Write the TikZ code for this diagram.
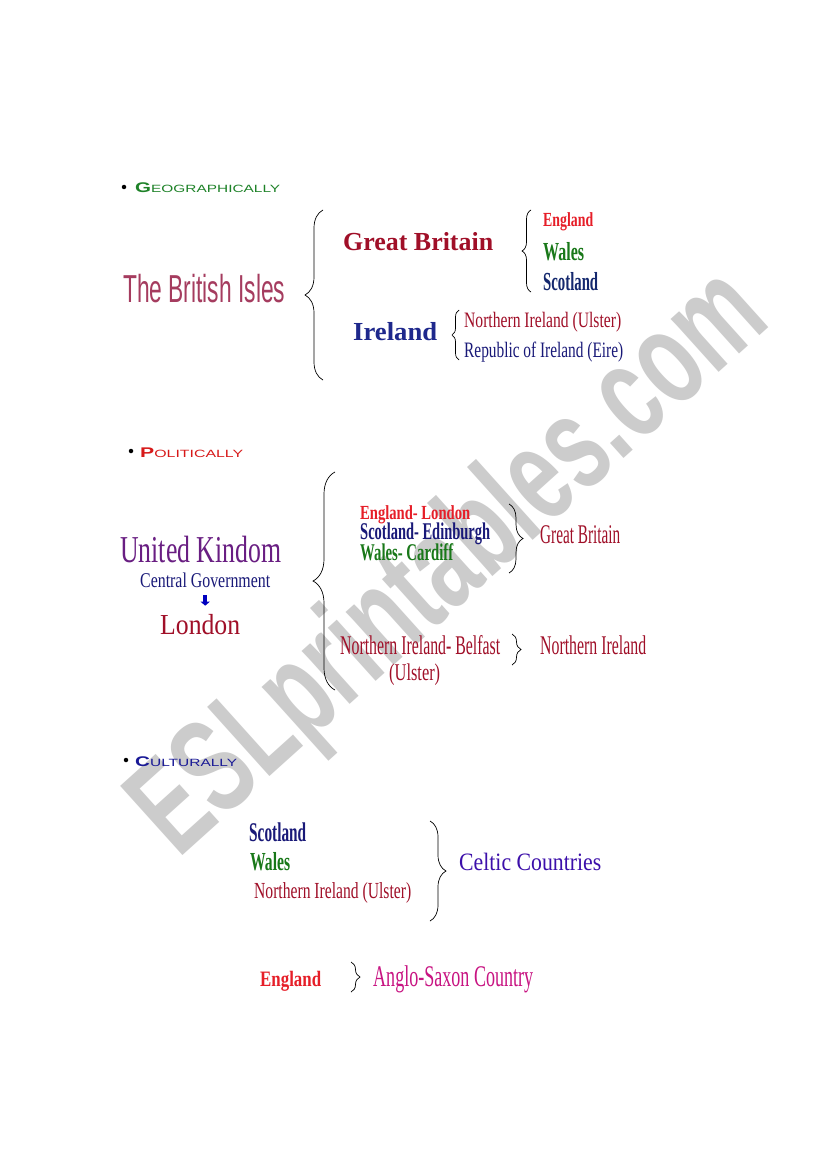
\documentclass[tikz,border=0pt]{standalone}
\usepackage{fontspec}
\setmainfont{Liberation Serif}
\newfontfamily\headfont{Liberation Sans}
\newfontfamily\markfont{Liberation Sans Bold}
\usepackage{graphicx}
\usetikzlibrary{decorations.pathreplacing,arrows.meta,calc}

\definecolor{geogreen}{RGB}{30,130,40}
\definecolor{polred}{RGB}{215,25,25}
\definecolor{culblue}{RGB}{25,25,150}
\definecolor{darkred}{RGB}{160,15,40}
\definecolor{engred}{RGB}{230,30,40}
\definecolor{walgreen}{RGB}{25,120,25}
\definecolor{scotblue}{RGB}{20,40,110}
\definecolor{navy}{RGB}{25,25,120}
\definecolor{irlblue}{RGB}{30,40,140}
\definecolor{islesred}{RGB}{165,60,95}
\definecolor{ukpurple}{RGB}{105,30,130}
\definecolor{celtic}{RGB}{60,15,170}
\definecolor{saxon}{RGB}{200,20,130}
\definecolor{mark}{RGB}{204,204,204}

% size, width, text
\newcommand{\sq}[3]{{\fontsize{#1}{#1}\selectfont\resizebox{#2pt}{\height}{#3}}}
% first letter, rest, width
\newcommand{\heading}[3]{{\headfont\resizebox{#3pt}{\height}{\fontsize{14}{14}\selectfont\bfseries #1\mdseries\fontsize{10.5}{10.5}\selectfont #2}}}

\begin{document}
\begin{tikzpicture}[x=1pt,y=-1pt,
    lbl/.style={inner sep=0pt,anchor=base west},
    curly/.style={decorate,decoration={brace,amplitude=#1},line width=0.7pt},
    bullet/.style={circle,fill=black,inner sep=0pt,minimum size=4.5pt}]

  \fill[white] (0,0) rectangle (821,1169);
  \useasboundingbox (0,0) rectangle (821,1169);

  \node[rotate=42,text=mark] (wm) at (452,566)
    {\markfont\resizebox{800pt}{98pt}{ESLprintables.com}};

  % geographically
  \node[bullet] (b1) at (124,187) {};
  \node[lbl,text=geogreen] (geo) at (135,193) {\heading{G}{EOGRAPHICALLY}{145}};
  \node[lbl,text=islesred] (isles) at (123,302) {\headfont\sq{39}{162}{The British Isles}};
  \node[lbl,text=darkred] (gb) at (343,250) {\bfseries\sq{26}{150}{Great Britain}};
  \node[lbl,text=engred] (eng) at (543,226) {\bfseries\sq{20}{50}{England}};
  \node[lbl,text=walgreen] (wal) at (543,260) {\bfseries\sq{26}{41}{Wales}};
  \node[lbl,text=scotblue] (sco) at (543,290) {\bfseries\sq{26}{55}{Scotland}};
  \node[lbl,text=irlblue] (irl) at (353,340) {\bfseries\sq{26}{84}{Ireland}};
  \node[lbl,text=darkred] (ni) at (464,327) {\sq{22}{157}{Northern Ireland (Ulster)}};
  \node[lbl,text=navy] (roi) at (464,357) {\sq{22}{159}{Republic of Ireland (Eire)}};
  \draw[curly=18pt] (323,380) -- (323,210);
  \draw[curly=9pt] (531,292) -- (531,210);
  \draw[curly=7pt] (459,360) -- (459,310);

  % politically
  \node[bullet] (b2) at (131,451) {};
  \node[lbl,text=polred] (pol) at (140,457) {\heading{P}{OLITICALLY}{103}};
  \node[lbl,text=ukpurple] (uk) at (120,562) {\sq{38}{161}{United Kindom}};
  \node[lbl,text=navy] (cg) at (140,587) {\sq{21}{130}{Central Government}};
  \node[lbl,text=darkred] (ldn) at (160,634) {\sq{29}{80}{London}};
  \draw[blue!75!black,line width=3.5pt,-{Triangle[width=9pt,length=4pt]},
    shorten <=8pt,shorten >=8pt] (cg.south) -- (cg.south |- ldn.north);
  \node[lbl,text=engred] (engl) at (360,519) {\bfseries\sq{20}{110}{England- London}};
  \node[lbl,text=navy] (scoe) at (360,539) {\bfseries\sq{24}{130}{Scotland- Edinburgh}};
  \node[lbl,text=walgreen] (walc) at (360,560) {\bfseries\sq{24}{93}{Wales- Cardiff}};
  \node[lbl,text=darkred] (gb2) at (540,543) {\sq{27}{80}{Great Britain}};
  \node[lbl,text=darkred] (nib) at (340,654) {\sq{27}{160}{Northern Ireland- Belfast}};
  \node[lbl,text=darkred] (uls) at (389,680) {\sq{24}{51}{(Ulster)}};
  \node[lbl,text=darkred] (ni2) at (540,654) {\sq{27}{106}{Northern Ireland}};
  \draw[curly=22pt] (335,690) -- (335,472);
  \draw[curly=14pt] (509,504) -- (509,573);
  \draw[curly=9pt] (512,634) -- (512,665);

  % culturally
  \node[bullet] (b3) at (126,760) {};
  \node[lbl,text=culblue] (cul) at (135,766) {\heading{C}{ULTURALLY}{102}};
  \node[lbl,text=navy] (sco3) at (249,841) {\bfseries\sq{27}{57}{Scotland}};
  \node[lbl,text=walgreen] (wal3) at (250,870) {\bfseries\sq{26}{40}{Wales}};
  \node[lbl,text=darkred] (ni3) at (254,898) {\sq{23}{157}{Northern Ireland (Ulster)}};
  \node[lbl,text=celtic] (celt) at (459,870) {\sq{25}{142}{Celtic Countries}};
  \node[lbl,text=engred] (eng3) at (260,986) {\bfseries\sq{22}{61}{England}};
  \node[lbl,text=saxon] (anglo) at (373,986) {\sq{30}{160}{Anglo-Saxon Country}};
  \draw[curly=16pt] (430,821) -- (430,921);
  \draw[curly=9pt] (351,962) -- (351,992);
\end{tikzpicture}
\end{document}
